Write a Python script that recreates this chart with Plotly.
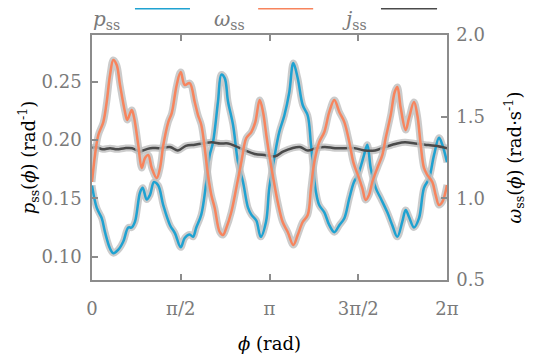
import numpy as np
import plotly.graph_objects as go

# ---- data ----
phi_p = [0.00, 0.083, 0.172, 0.230, 0.319, 0.377, 0.466, 0.554, 0.642, 0.703, 0.761, 0.850, 0.897, 0.968,
         1.027, 1.097, 1.173, 1.262, 1.381, 1.469, 1.570, 1.641, 1.729, 1.788, 1.846, 1.934, 2.023, 2.083,
         2.142, 2.230, 2.289, 2.349, 2.407, 2.496, 2.584, 2.673, 2.761, 2.820, 2.908, 2.986, 3.080, 3.138,
         3.227, 3.315, 3.404, 3.492, 3.563, 3.641, 3.729, 3.818, 3.876, 3.965, 4.023, 4.112, 4.200, 4.289,
         4.377, 4.466, 4.554, 4.637, 4.708, 4.767, 4.814, 4.873, 4.933, 5.021, 5.110, 5.227, 5.315, 5.404,
         5.492, 5.552, 5.611, 5.699, 5.788, 5.876, 5.965, 6.053, 6.142, 6.200, 6.283]
p_ss = [0.161, 0.142, 0.133, 0.121, 0.107, 0.103, 0.106, 0.113, 0.125, 0.125, 0.130, 0.155, 0.159, 0.149,
        0.153, 0.164, 0.161, 0.144, 0.127, 0.120, 0.108, 0.116, 0.119, 0.117, 0.125, 0.136, 0.164, 0.187,
        0.198, 0.233, 0.256, 0.253, 0.233, 0.213, 0.181, 0.164, 0.142, 0.136, 0.131, 0.117, 0.130, 0.159,
        0.185, 0.207, 0.221, 0.241, 0.266, 0.253, 0.230, 0.221, 0.196, 0.155, 0.144, 0.138, 0.127, 0.121,
        0.127, 0.133, 0.150, 0.164, 0.170, 0.179, 0.187, 0.196, 0.176, 0.159, 0.150, 0.138, 0.127, 0.117,
        0.130, 0.140, 0.134, 0.125, 0.133, 0.159, 0.167, 0.187, 0.202, 0.196, 0.181]

phi_w = [0.00, 0.053, 0.112, 0.200, 0.260, 0.319, 0.377, 0.437, 0.496, 0.584, 0.625, 0.703, 0.743, 0.819,
         0.880, 0.938, 0.996, 1.057, 1.145, 1.204, 1.262, 1.350, 1.411, 1.499, 1.570, 1.641, 1.729, 1.818,
         1.876, 1.935, 1.995, 2.053, 2.112, 2.172, 2.260, 2.319, 2.377, 2.466, 2.554, 2.643, 2.731, 2.820,
         2.890, 2.968, 3.027, 3.085, 3.138, 3.198, 3.287, 3.375, 3.464, 3.563, 3.641, 3.729, 3.818, 3.876,
         3.935, 4.023, 4.112, 4.200, 4.289, 4.377, 4.466, 4.554, 4.625, 4.726, 4.784, 4.844, 4.903, 4.961,
         5.050, 5.138, 5.198, 5.287, 5.358, 5.404, 5.464, 5.552, 5.611, 5.699, 5.758, 5.818, 5.876, 5.935,
         6.023, 6.083, 6.142, 6.200, 6.283]
omega_ss = [1.100, 1.265, 1.388, 1.467, 1.590, 1.755, 1.847, 1.816, 1.694, 1.529, 1.480, 1.541, 1.498, 1.326,
            1.186, 1.247, 1.265, 1.186, 1.124, 1.186, 1.326, 1.467, 1.522, 1.694, 1.773, 1.694, 1.706, 1.590,
            1.510, 1.449, 1.308, 1.143, 1.020, 0.941, 0.794, 0.775, 0.818, 0.916, 1.063, 1.222, 1.369, 1.406,
            1.467, 1.602, 1.529, 1.388, 1.265, 1.143, 0.978, 0.855, 0.794, 0.714, 0.775, 0.855, 0.898, 1.063,
            1.222, 1.345, 1.406, 1.529, 1.602, 1.529, 1.467, 1.345, 1.222, 1.124, 1.063, 0.990, 1.020, 1.100,
            1.186, 1.265, 1.369, 1.510, 1.651, 1.682, 1.553, 1.418, 1.492, 1.590, 1.510, 1.326, 1.186, 1.143,
            1.100, 1.020, 0.959, 0.978, 1.082]

phi_j = [0.00, 0.07, 0.19, 0.32, 0.44, 0.58, 0.71, 0.85, 0.90, 1.03, 1.20, 1.38, 1.52, 1.66, 1.82, 1.96,
         2.12, 2.27, 2.41, 2.53, 2.71, 2.88, 3.08, 3.24, 3.38, 3.54, 3.68, 3.82, 3.96, 4.12, 4.30, 4.48,
         4.65, 4.83, 5.01, 5.19, 5.40, 5.54, 5.72, 5.89, 6.07, 6.283]
j_ss = [0.193, 0.194, 0.192, 0.193, 0.192, 0.193, 0.193, 0.190, 0.191, 0.193, 0.193, 0.194, 0.191, 0.195,
        0.196, 0.197, 0.198, 0.197, 0.197, 0.195, 0.191, 0.188, 0.187, 0.186, 0.190, 0.193, 0.194, 0.191,
        0.193, 0.194, 0.193, 0.193, 0.193, 0.191, 0.191, 0.194, 0.197, 0.198, 0.197, 0.196, 0.195, 0.193]

x_tickvals = [0, np.pi / 2, np.pi, 3 * np.pi / 2, 2 * np.pi]
x_ticktext = ["0", "π/2", "π", "3π/2", "2π"]
left_ticks = [0.10, 0.15, 0.20, 0.25]
left_ticktext = ["0.10", "0.15", "0.20", "0.25"]
right_ticks = [0.5, 1.0, 1.5, 2.0]
right_ticktext = ["0.5", "1.0", "1.5", "2.0"]

# ---- styles ----
BLUE = "#1fa2d1"
ORANGE = "#f7845d"
DARK = "#4a4a4a"
BAND = "rgba(190,190,190,0.8)"
AXC = "#8c8c8c"
TICKC = "#7a7a7a"
SERIF = "DejaVu Serif"

fig = go.Figure()

# gray bands
fig.add_trace(go.Scatter(x=phi_p, y=p_ss, mode="lines", line=dict(color=BAND, width=7, shape="spline"),
                         hoverinfo="skip", showlegend=False))
fig.add_trace(go.Scatter(x=phi_w, y=omega_ss, mode="lines", yaxis="y2",
                         line=dict(color=BAND, width=7, shape="spline"), hoverinfo="skip", showlegend=False))
fig.add_trace(go.Scatter(x=phi_j, y=j_ss, mode="lines", line=dict(color=BAND, width=7, shape="spline"),
                         hoverinfo="skip", showlegend=False))
# main lines
fig.add_trace(go.Scatter(x=phi_p, y=p_ss, mode="lines", name="p_ss",
                         line=dict(color=BLUE, width=2.5, shape="spline"), showlegend=False))
fig.add_trace(go.Scatter(x=phi_w, y=omega_ss, mode="lines", name="ω_ss", yaxis="y2",
                         line=dict(color=ORANGE, width=2.5, shape="spline"), showlegend=False))
fig.add_trace(go.Scatter(x=phi_j, y=j_ss, mode="lines", name="j_ss",
                         line=dict(color=DARK, width=2.5, shape="spline"), showlegend=False))

axis_common = dict(showline=True, linecolor=AXC, linewidth=1.5, ticks="inside", ticklen=6,
                   tickcolor=AXC, tickwidth=1.5, showgrid=False, zeroline=False, automargin=False,
                   tickfont=dict(family=SERIF, size=18, color=TICKC))

# page body has an 8px default margin, so the figure is offset by (8, 8) in the window
fig.update_layout(
    width=525, height=346,
    margin=dict(l=84, r=86, t=27, b=74),
    plot_bgcolor="white", paper_bgcolor="white",
    xaxis=dict(range=[0, 2 * np.pi], tickvals=x_tickvals, ticktext=x_ticktext, mirror="ticks",
               ticklabelstandoff=12,
               title=dict(text="<i>ϕ</i> (rad)", font=dict(family=SERIF, size=18, color="black"), standoff=22),
               **axis_common),
    yaxis=dict(range=[0.08, 0.29], tickvals=left_ticks, ticktext=left_ticktext, ticklabelstandoff=5,
               title=dict(text="<i>p</i><sub>ss</sub>(<i>ϕ</i>) (rad<sup>-1</sup>)",
                          font=dict(family=SERIF, size=18, color="black"), standoff=0),
               **axis_common),
    yaxis2=dict(range=[0.5, 2.0], tickvals=right_ticks, ticktext=right_ticktext,
                overlaying="y", side="right", ticklabelstandoff=4,
                title=dict(text="<i>ω</i><sub>ss</sub>(<i>ϕ</i>) (rad·s<sup>-1</sup>)",
                           font=dict(family=SERIF, size=18, color="black"), standoff=24),
                **axis_common),
)

# custom legend (text left, swatch right)
legend_items = [("<i>p</i><sub>ss</sub>", BLUE, 0.085, 0.121, 0.276),
                ("<i>ω</i><sub>ss</sub>", ORANGE, 0.437, 0.468, 0.623),
                ("<i>j</i><sub>ss</sub>", DARK, 0.780, 0.814, 0.972)]
for txt, col, tx, x0, x1 in legend_items:
    fig.add_annotation(xref="paper", yref="paper", x=tx, y=1.06, text=txt, showarrow=False,
                       xanchor="right", yanchor="middle", font=dict(family=SERIF, size=20, color=TICKC))
    fig.add_shape(type="line", xref="paper", yref="paper", x0=x0, x1=x1, y0=1.109, y1=1.109,
                  line=dict(color=col, width=2.5))

fig.write_html("out.html")
